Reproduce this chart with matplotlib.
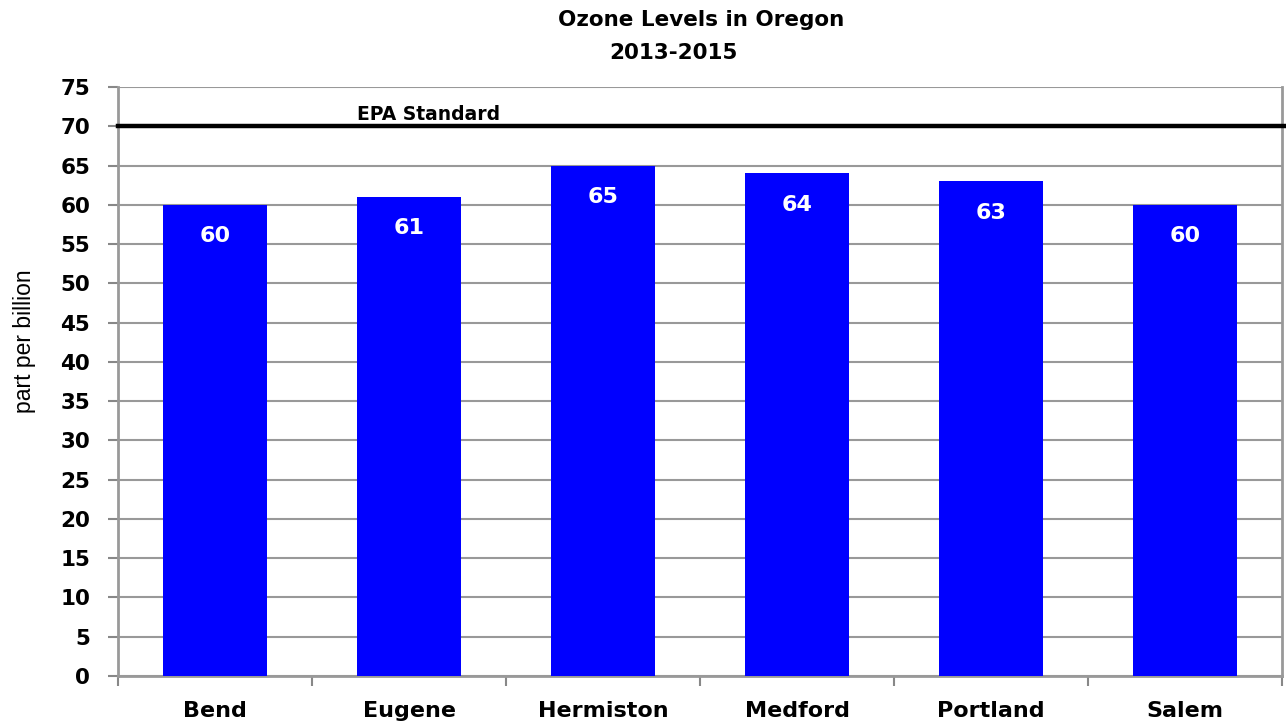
import matplotlib.pyplot as plt
import numpy as np

cities = ['Bend', 'Eugene', 'Hermiston', 'Medford', 'Portland', 'Salem']
ozone = [60, 61, 65, 64, 63, 60]
epa_standard = 70

plt.rcParams['font.family'] = ['DejaVu Sans']

fig = plt.figure(figsize=(12.86, 7.28), dpi=100)
ax = fig.add_axes([0.0918, 0.0714, 0.9051, 0.8091])

x = np.arange(len(cities))
ax.bar(x, ozone, width=0.54, color='#0000FF', zorder=3)

# value labels inside the bars
for xi, v in zip(x, ozone):
    ax.text(xi, v - 4, str(v), ha='center', va='center', color='white',
            fontsize=16, fontweight='bold', zorder=4)

# EPA standard line
ax.plot([-0.5, 5.52], [epa_standard, epa_standard], color='black', lw=3.2,
        clip_on=False, zorder=5)
ax.text(1.1, epa_standard + 0.3, 'EPA Standard', ha='center', va='bottom',
        fontsize=13.5, fontweight='bold')

ax.set_xlim(-0.5, 5.5)
ax.set_ylim(0, 75)
ax.set_yticks(np.arange(0, 80, 5))
ax.set_xticks(x)
ax.set_xticklabels(cities, fontsize=16, fontweight='bold')
ax.set_xticks(np.arange(-0.5, 6, 1), minor=True)
ax.tick_params(axis='x', which='major', length=0, pad=18)
ax.tick_params(axis='x', which='minor', length=7, width=1.5, color='#888888',
               direction='out')
ax.tick_params(axis='y', length=7, width=1.5, color='#888888', pad=13,
               labelsize=15.5)
for lab in ax.get_yticklabels():
    lab.set_fontweight('bold')

ax.yaxis.grid(True, color='#999999', lw=1.5, zorder=0)
ax.set_axisbelow(True)
ax.spines['top'].set_visible(False)
for s in ['left', 'bottom', 'right']:
    ax.spines[s].set_color('#999999')
    ax.spines[s].set_linewidth(2)

fig.text(25 / 1286, 1 - 341 / 728, 'part per billion', rotation=90,
         ha='center', va='center', fontsize=16.5, family='Liberation Sans')

fig.text(701 / 1286, 1 - 20 / 728, 'Ozone Levels in Oregon', ha='center',
         va='center', fontsize=15.5, fontweight='bold')
fig.text(673 / 1286, 1 - 53 / 728, '2013-2015', ha='center',
         va='center', fontsize=15.5, fontweight='bold')

fig.savefig('out.png', dpi=100)
